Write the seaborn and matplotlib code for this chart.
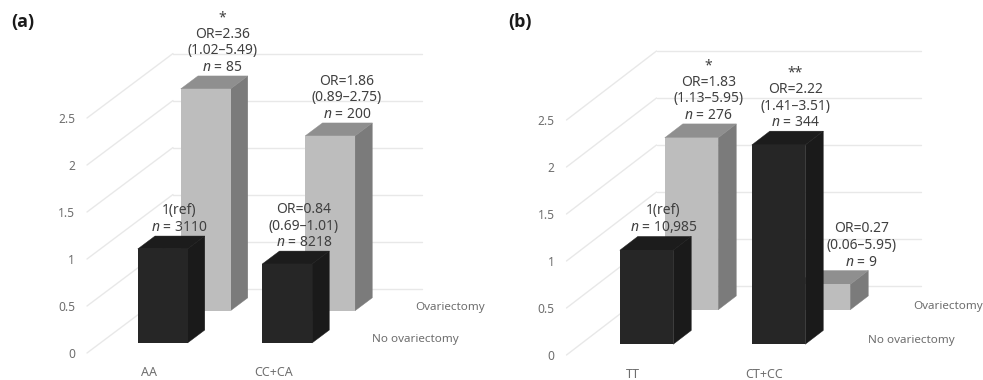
import numpy as np
import pandas as pd
import matplotlib
matplotlib.use("Agg")
import matplotlib.pyplot as plt
from matplotlib.patches import Polygon
import seaborn as sns

sns.set_style("white")
plt.rcParams['font.family'] = ['Noto Sans', 'DejaVu Sans']
plt.rcParams['mathtext.fontset'] = 'custom'
plt.rcParams['mathtext.rm'] = 'Noto Sans'
plt.rcParams['mathtext.it'] = 'Noto Sans:italic'

# ---- data -------------------------------------------------------------
yticks = [0, 0.5, 1, 1.5, 2, 2.5]
ytick_labels = ["0", "0.5", "1", "1.5", "2", "2.5"]
row_names = ["No ovariectomy", "Ovariectomy"]

cats_a = ["AA", "CC+CA"]
no_ovx_a = [1.0, 0.84]
ovx_a = [2.36, 1.86]
no_ovx_labels_a = ["1(ref)\n$\\mathit{n}$ = 3110",
                   "OR=0.84\n(0.69–1.01)\n$\\mathit{n}$ = 8218"]
ovx_labels_a = ["*\nOR=2.36\n(1.02–5.49)\n$\\mathit{n}$ = 85",
                "OR=1.86\n(0.89–2.75)\n$\\mathit{n}$ = 200"]

cats_b = ["TT", "CT+CC"]
no_ovx_b = [1.0, 2.12]   # height as drawn in the picture
ovx_b = [1.83, 0.27]
no_ovx_labels_b = ["1(ref)\n$\\mathit{n}$ = 10,985",
                   "**\nOR=2.22\n(1.41–3.51)\n$\\mathit{n}$ = 344"]
ovx_labels_b = ["*\nOR=1.83\n(1.13–5.95)\n$\\mathit{n}$ = 276",
                "OR=0.27\n(0.06–5.95)\n$\\mathit{n}$ = 9"]

# ---- style ------------------------------------------------------------
W, H = 983, 380
GRID = "#e8e8e8"
TICK = "#6e6e6e"
TXT = "#404040"
BLACK = dict(front="#262626", side="#1a1a1a", top="#1c1c1c")
GRAY = dict(front="#bdbdbd", side="#7b7b7b", top="#8f8f8f")
ROW_FRONT = [0.156, 0.656]   # depth of each row's front face (0..1)
BAR_DEPTH = 0.2
PX = 0.72                    # points per pixel at dpi 100


def panel(left, y0, cat_px, unit_px, dx_px, dy_px, bar_w,
          cats, s_front, s_back, lab_front, lab_back, nudge_back):
    dx, dy = dx_px / cat_px, dy_px / unit_px
    xmax, ymax = 2 + dx, 2.5 + dy
    ax = plt.axes([left / W, (H - y0) / H, xmax * cat_px / W, ymax * unit_px / H])
    ax.patch.set_alpha(0)

    # grid: floor/left wall diagonals + back wall lines
    for t in yticks:
        ax.plot([0, dx], [t, t + dy], color=GRID, lw=1, zorder=1, clip_on=False)
        ax.plot([dx, xmax], [t + dy, t + dy], color=GRID, lw=1, zorder=1, clip_on=False)

    series = [(s_back, lab_back, GRAY, ROW_FRONT[1], 3, nudge_back),
              (s_front, lab_front, BLACK, ROW_FRONT[0], 5, [0, 0])]
    for vals, labs, col, d, z, nudge in series:
        pos = np.arange(2) + 0.5 + d * dx
        df = pd.DataFrame({"pos": pos, "val": vals})
        n0 = len(ax.patches)
        sns.barplot(data=df, x="pos", y="val", native_scale=True, width=bar_w,
                    bottom=d * dy, color=col["front"], saturation=1, errorbar=None,
                    edgecolor="none", linewidth=0, zorder=z + 1, ax=ax, clip_on=False)
        for bar, lab, nx in zip(ax.patches[n0:], labs, nudge):
            x0, x1 = bar.get_x(), bar.get_x() + bar.get_width()
            b, t = bar.get_y(), bar.get_y() + bar.get_height()
            wx, wy = BAR_DEPTH * dx, BAR_DEPTH * dy
            ax.add_patch(Polygon([(x1, b), (x1 + wx, b + wy), (x1 + wx, t + wy), (x1, t)],
                                 fc=col["side"], ec=col["side"], lw=0.3, zorder=z, clip_on=False))
            ax.add_patch(Polygon([(x0, t), (x1, t), (x1 + wx, t + wy), (x0 + wx, t + wy)],
                                 fc=col["top"], ec=col["top"], lw=0.3, zorder=z, clip_on=False))
            ax.annotate(lab, ((x0 + x1 + wx) / 2, t + wy), xytext=((8 + nx) * PX, 1 * PX),
                        textcoords="offset points", ha="center", va="bottom",
                        fontsize=10, color=TXT, linespacing=1.14, zorder=20,
                        annotation_clip=False)

    # row names at the right end of the floor
    for name, d in zip(row_names, ROW_FRONT):
        ax.annotate(name, (2 + (d + 0.094) * dx, (d + 0.094) * dy), xytext=(15 * PX, -3 * PX),
                    textcoords="offset points", ha="left", va="center",
                    fontsize=8.4, color=TICK, annotation_clip=False)

    ax.set_xlim(0, xmax)
    ax.set_ylim(0, ymax)
    ax.set_xticks([0.5, 1.5], cats)
    ax.set_yticks(yticks, ytick_labels)
    ax.set_xlabel("")
    ax.set_ylabel("")
    ax.tick_params(axis="x", length=0, pad=13 * PX, labelsize=9, labelcolor=TICK)
    ax.tick_params(axis="y", length=0, pad=12 * PX, labelsize=8.6, labelcolor=TICK)
    sns.despine(ax=ax, left=True, bottom=True)
    return ax


fig = plt.figure(figsize=(W / 100, H / 100), dpi=100, facecolor="white")
panel(87, 353, 124.5, 94, 86, 64.5, 0.40, cats_a, no_ovx_a, ovx_a,
      no_ovx_labels_a, ovx_labels_a, [0, 0])
panel(566.5, 355, 132, 94, 90, 69, 0.405, cats_b, no_ovx_b, ovx_b,
      no_ovx_labels_b, ovx_labels_b, [0, 21])

for x, s in [(11, "(a)"), (508, "(b)")]:
    fig.text(x / W, 1 - 22 / H, s, fontsize=13, fontweight="bold",
             family="Open Sans", color="#1a1a1a", va="center")

fig.savefig("out.png", dpi=100, facecolor="white")
